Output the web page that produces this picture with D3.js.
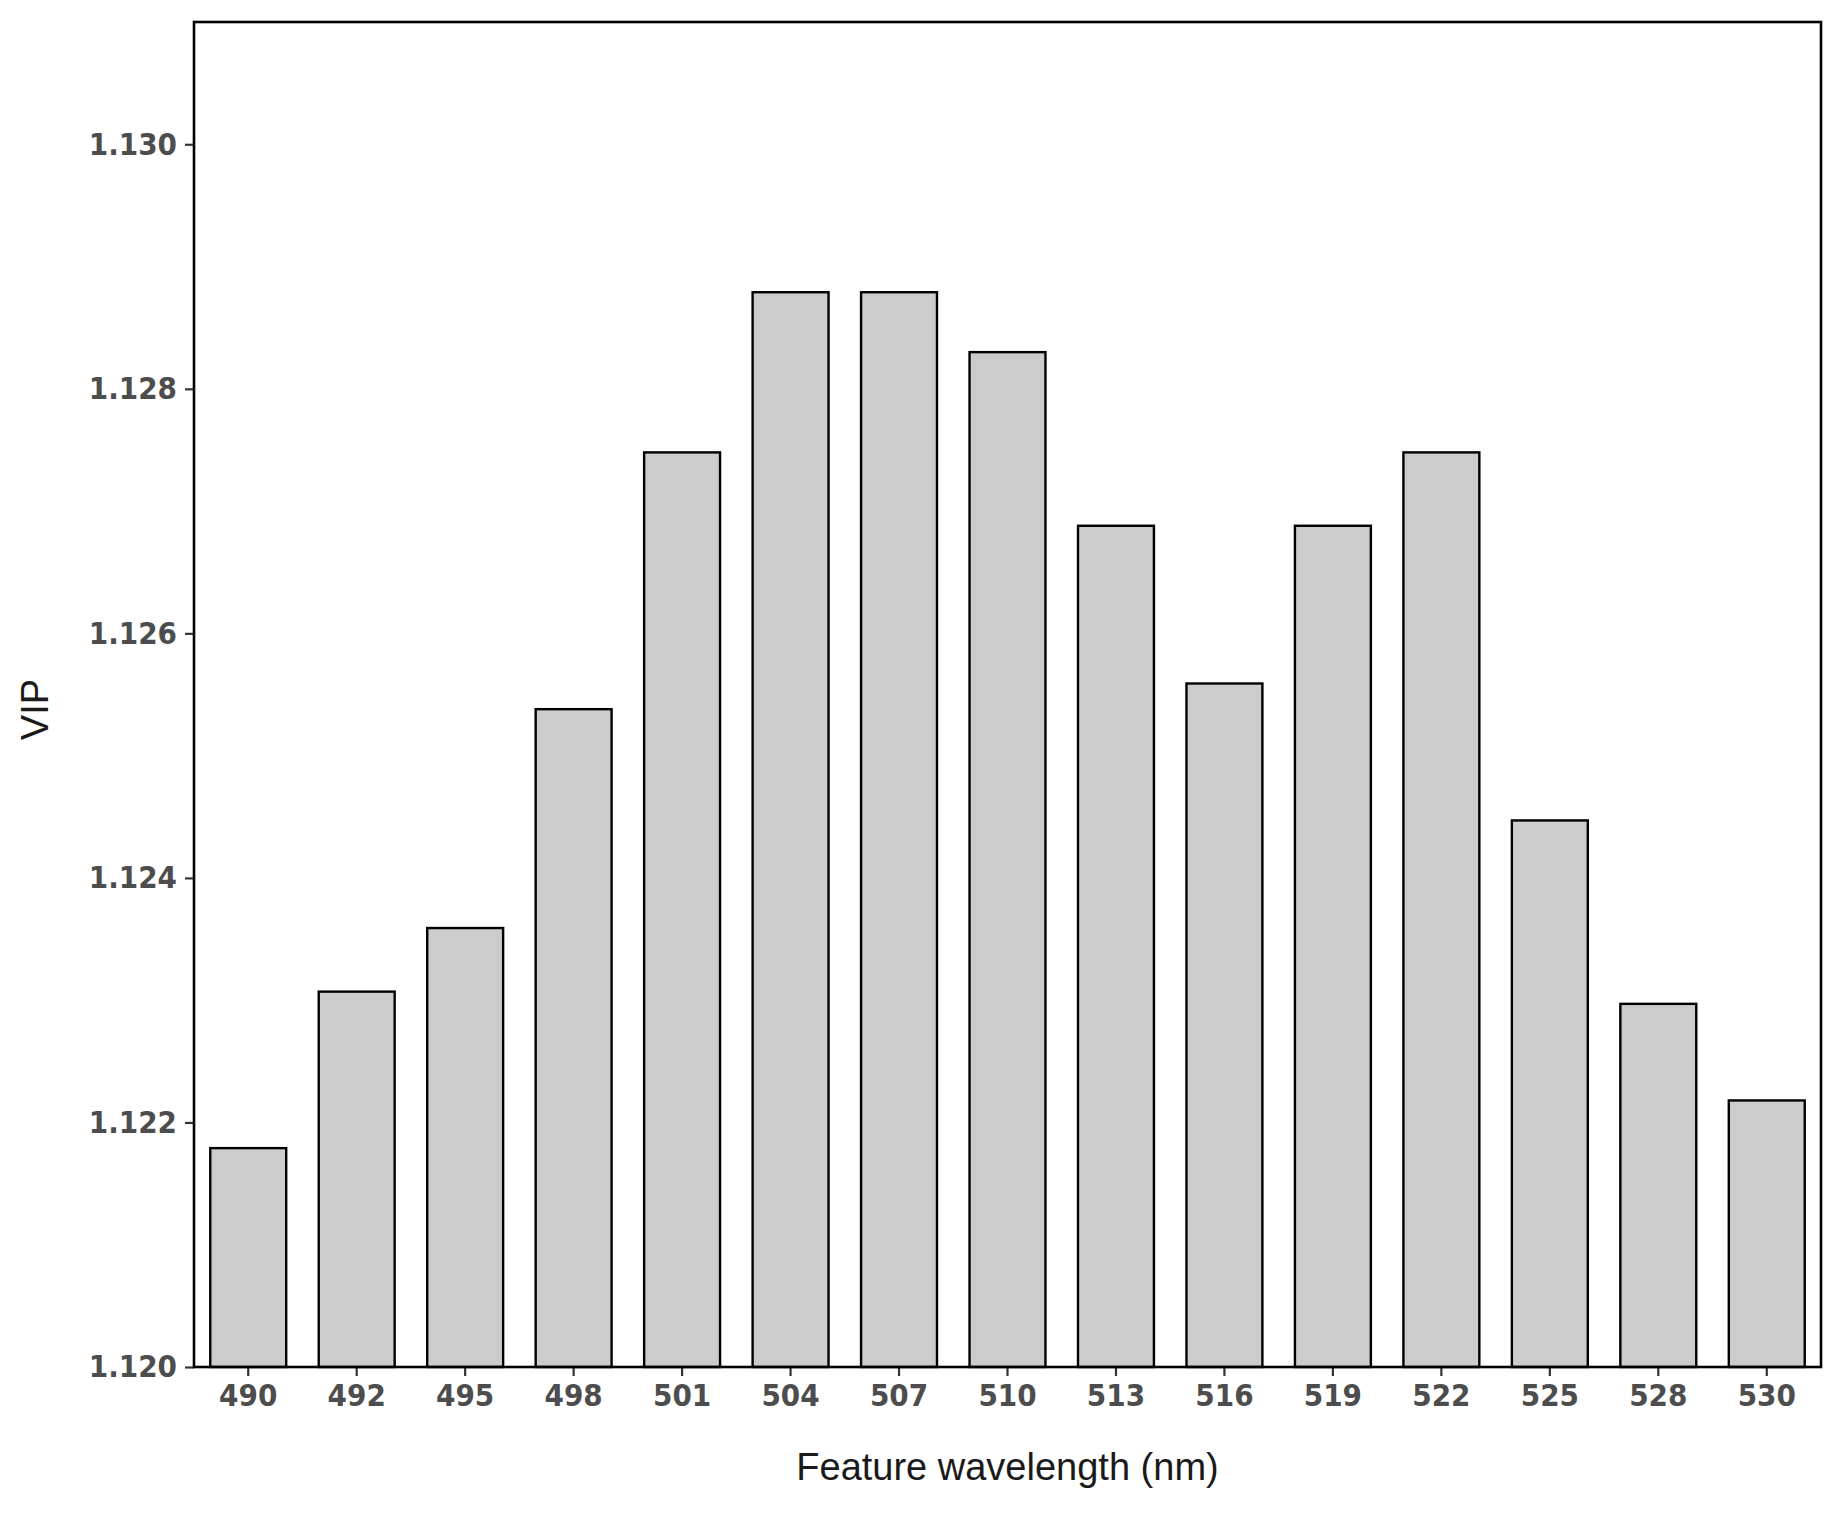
<!DOCTYPE html>
<html><head><meta charset="utf-8">
<script src="https://cdn.jsdelivr.net/npm/d3@7"></script>
<style>body{margin:0;background:#fff}</style></head>
<body><svg id="c" width="1843" height="1521"></svg>
<script>
const categories = ["490","492","495","498","501","504","507","510","513","516","519","522","525","528","530"];
const values = [1.12179,1.12307,1.12359,1.12538,1.12748,1.12879,1.12879,1.12830,1.12688,1.12559,1.12688,1.12748,1.12447,1.12297,1.12218];
const yTicks = [1.120,1.122,1.124,1.126,1.128,1.130];

const svg = d3.select("#c");
const m = {l:194, r:1821, t:22, b:1367};
const x = d3.scaleBand().domain(categories).range([m.l,m.r]).paddingInner(0.3).paddingOuter(0.15);
const y = d3.scaleLinear().domain([1.120,1.131]).range([m.b,m.t]);

svg.append("g").selectAll("rect").data(values).join("rect")
  .attr("x",(d,i)=>x(categories[i])).attr("width",x.bandwidth())
  .attr("y",d=>y(d)).attr("height",d=>y(1.120)-y(d))
  .attr("fill","#cccccc").attr("stroke","#000").attr("stroke-width",2.4);

const tickFont = "'DejaVu Sans Condensed','DejaVu Sans',sans-serif";
const xa = svg.append("g").attr("transform",`translate(0,${m.b})`)
  .call(d3.axisBottom(x).tickSize(9).tickPadding(8));
const ya = svg.append("g").attr("transform",`translate(${m.l},0)`)
  .call(d3.axisLeft(y).tickValues(yTicks).tickFormat(d3.format(".3f")).tickSize(9).tickPadding(8));
[xa,ya].forEach(a=>{
  a.select(".domain").remove();
  a.selectAll("line").attr("stroke","#333").attr("stroke-width",2.2);
  a.selectAll("text").attr("font-family",tickFont).attr("font-weight","bold")
   .attr("font-size",31).attr("fill","#4d4d4d");
});

svg.append("rect").attr("x",m.l).attr("y",m.t).attr("width",m.r-m.l).attr("height",m.b-m.t)
  .attr("fill","none").attr("stroke","#000").attr("stroke-width",2.6);

svg.append("text").attr("x",(m.l+m.r)/2).attr("y",1480).attr("text-anchor","middle")
  .attr("font-family","'Liberation Sans',Arial,sans-serif").attr("font-size",38).attr("fill","#1a1a1a")
  .text("Feature wavelength (nm)");
svg.append("text").attr("transform",`translate(48,${(m.t+m.b)/2+15}) rotate(-90)`).attr("text-anchor","middle")
  .attr("font-family","'Liberation Sans',Arial,sans-serif").attr("font-size",38).attr("fill","#1a1a1a")
  .text("VIP");
</script></body></html>
